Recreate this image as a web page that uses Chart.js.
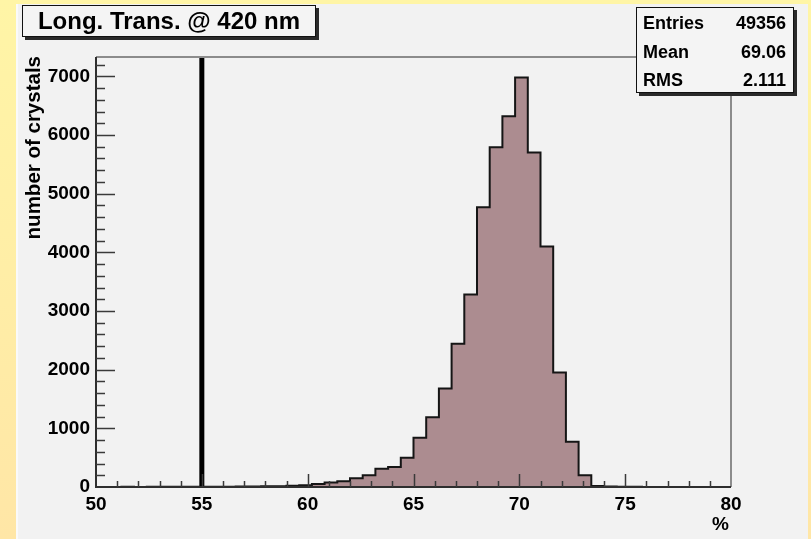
<!DOCTYPE html>
<html>
<head>
<meta charset="utf-8">
<script src="https://cdn.jsdelivr.net/npm/chart.js@4.4.1/dist/chart.umd.min.js"></script>
<style>
html,body{margin:0;padding:0;}
body{width:811px;height:539px;overflow:hidden;position:relative;
  background:linear-gradient(180deg,#fff5a6 0%,#ffeea6 50%,#ffe6a6 100%);
  font-family:"Liberation Sans",Arial,Helvetica,sans-serif;}
#pad{position:absolute;left:16px;top:4px;width:792px;height:535px;background:#f2f2f2;border-left:2px solid #fafafa;box-sizing:border-box;}
#c{position:absolute;left:0;top:0;}
.box{position:absolute;background:#f4f4f4;border:1.5px solid #111;box-shadow:3px 3px 0 #2a2a2a;font-weight:bold;color:#000;box-sizing:border-box;}
#title{left:22px;top:5px;width:294px;height:32px;font-size:24px;line-height:30px;text-align:center;white-space:nowrap;}
#stats{left:636px;top:7px;width:158px;height:86px;font-size:18px;}
.row{position:absolute;left:6px;right:7px;height:28px;line-height:28px;white-space:nowrap;}
.row .v{float:right;}
</style>
</head>
<body>
<div id="pad"></div>
<canvas id="c" width="811" height="539"></canvas>
<div id="title" class="box"></div>
<div id="stats" class="box"></div>
<script>
// ---- data ----
const chartTitle = "Long. Trans. @ 420 nm";
const xTitle = "%";
const yTitle = "number of crystals";
const binStart = 50;
const binWidth = 0.6;
const counts = [
  0, 2, 3, 2, 3, 4, 3, 5, 4, 6,
  5, 8, 10, 12, 14, 20, 30, 50, 75, 100,
  150, 200, 310, 340, 500, 840, 1190, 1680, 2440, 3280,
  4770, 5790, 6320, 6980, 5700, 4100, 1950, 770, 200, 15,
  8, 5, 3, 2, 2, 1, 1, 1, 0, 0
];
const cutValue = 55;
const xTicks = [50, 55, 60, 65, 70, 75, 80];
const yTicks = [0, 1000, 2000, 3000, 4000, 5000, 6000, 7000];
const xMin = 50, xMax = 80;
const yMax = 7330;
const statLabels = ["Entries", "Mean", "RMS"];
const statValues = ["49356", "69.06", "2.111"];

// ---- HTML boxes ----
document.getElementById('title').textContent = chartTitle;
const st = document.getElementById('stats');
statLabels.forEach((l, i) => {
  const r = document.createElement('div');
  r.className = 'row';
  r.style.top = (i * 28.5 + 1) + 'px';
  const a = document.createElement('span'); a.textContent = l;
  const b = document.createElement('span'); b.className = 'v'; b.textContent = statValues[i];
  r.appendChild(a); r.appendChild(b); st.appendChild(r);
});

// ---- chart ----
const FONT = '"Liberation Sans", Arial, Helvetica, sans-serif';
const histPoints = [{x: binStart, y: 0}]
  .concat(counts.map((c, k) => ({x: binStart + k * binWidth, y: c})))
  .concat([{x: binStart + counts.length * binWidth, y: 0}]);

const rootAxes = {
  id: 'rootAxes',
  afterDatasetsDraw(chart) {
    const {ctx, chartArea: a, scales: {x, y}} = chart;
    ctx.save();
    // frame (top/right)
    ctx.strokeStyle = '#8c8c8c'; ctx.lineWidth = 2;
    ctx.beginPath(); ctx.moveTo(a.left, a.top); ctx.lineTo(a.right, a.top); ctx.lineTo(a.right, a.bottom); ctx.stroke();
    // axes
    ctx.strokeStyle = '#2e2e2e'; ctx.lineWidth = 2;
    ctx.beginPath(); ctx.moveTo(a.left, a.top); ctx.lineTo(a.left, a.bottom); ctx.lineTo(a.right, a.bottom); ctx.stroke();
    // x ticks
    ctx.strokeStyle = '#3a3a3a'; ctx.lineWidth = 1.5;
    const xMajor = xTicks[1] - xTicks[0];
    for (let v = xMin + 1; v < xMax; v += 1) {
      const px = Math.round(x.getPixelForValue(v)) + 0.5;
      const len = (v % xMajor === 0) ? 13 : 6;
      ctx.beginPath(); ctx.moveTo(px, a.bottom); ctx.lineTo(px, a.bottom - len); ctx.stroke();
    }
    // y ticks
    const yMajor = yTicks[1] - yTicks[0];
    for (let v = yMajor / 5; v <= yMax; v += yMajor / 5) {
      const py = Math.round(y.getPixelForValue(v)) + 0.5;
      const len = (v % yMajor === 0) ? 19 : 9;
      ctx.beginPath(); ctx.moveTo(a.left, py); ctx.lineTo(a.left + len, py); ctx.stroke();
    }
    // axis titles
    ctx.fillStyle = '#000';
    ctx.font = 'bold 19px ' + FONT;
    ctx.textAlign = 'right'; ctx.textBaseline = 'middle';
    ctx.fillText(xTitle, a.right - 2, 525);
    ctx.font = 'bold 20.5px ' + FONT;
    ctx.translate(34, a.top - 1);
    ctx.rotate(-Math.PI / 2);
    ctx.textAlign = 'right';
    ctx.fillText(yTitle, 0, 0);
    ctx.restore();
  }
};

new Chart(document.getElementById('c'), {
  type: 'line',
  data: {
    datasets: [
      {
        data: [{x: cutValue, y: 0}, {x: cutValue, y: yMax}],
        borderColor: '#000', borderWidth: 5, pointRadius: 0, fill: false, order: 0
      },
      {
        data: histPoints,
        stepped: 'before',
        borderColor: '#151515', borderWidth: 2,
        backgroundColor: '#ac8c90',
        fill: 'origin', pointRadius: 0, order: 1
      }
    ]
  },
  options: {
    responsive: false, animation: false,
    layout: {padding: {left: 0, right: 80, top: 57, bottom: 0}, autoPadding: false},
    plugins: {legend: {display: false}, tooltip: {enabled: false}},
    scales: {
      x: {
        type: 'linear', min: xMin, max: xMax,
        afterFit(s) { s.height = 52; },
        afterBuildTicks(s) { s.ticks = xTicks.map(v => ({value: v})); },
        grid: {display: false, drawTicks: false},
        border: {display: false},
        ticks: {font: {family: FONT, weight: 'bold', size: 19}, color: '#000', padding: 6, maxRotation: 0, autoSkip: false,
                callback: v => String(v)}
      },
      y: {
        type: 'linear', min: 0, max: yMax,
        afterFit(s) { s.width = 96; },
        afterBuildTicks(s) { s.ticks = yTicks.map(v => ({value: v})); },
        grid: {display: false, drawTicks: false},
        border: {display: false},
        ticks: {font: {family: FONT, weight: 'bold', size: 19}, color: '#000', padding: 6, autoSkip: false,
                callback: v => String(v)}
      }
    }
  },
  plugins: [rootAxes]
});
</script>
</body>
</html>
